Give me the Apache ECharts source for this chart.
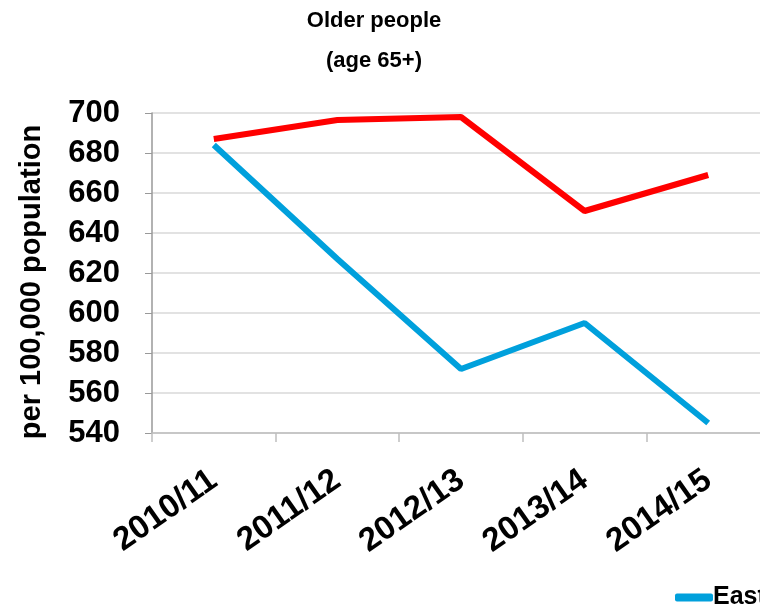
<!DOCTYPE html>
<html>
<head>
<meta charset="utf-8">
<script src="https://cdn.jsdelivr.net/npm/echarts@6/dist/echarts.min.js"></script>
<style>html,body{margin:0;padding:0;background:#fff}#c{width:760px;height:612px}</style>
</head>
<body>
<div id="c"></div>
<script>
var categories = ['2010/11', '2011/12', '2012/13', '2013/14', '2014/15'];
var eastValues = [684, 627, 572, 595, 545];
var englandValues = [687, 696.5, 698, 651, 669];
var seriesNames = ['East of England', 'England'];
var yTicks = {min: 540, max: 700, interval: 20};

var chart = echarts.init(document.getElementById('c'));
chart.setOption({
  animation: false,
  backgroundColor: '#fff',
  textStyle: {fontFamily: 'Liberation Sans, Arial, sans-serif'},
  title: {
    text: 'Older people\n(age 65+)',
    left: 369, top: -4, textAlign: 'center',
    textStyle: {fontSize: 22, fontWeight: 'bold', color: '#000', lineHeight: 40}
  },
  legend: {
    data: seriesNames,
    left: 670, top: 580,
    itemWidth: 38, itemHeight: 8, itemGap: 30,
    icon: 'roundRect',
    textStyle: {fontSize: 25, fontWeight: 'bold', color: '#000', padding: [0,0,0,-5]}
  },
  grid: {left: 152, right: -10, top: 113, bottom: 179, containLabel: false, outerBoundsMode: 'none'},
  xAxis: {
    type: 'category', data: categories, boundaryGap: true,
    axisLine: {lineStyle: {color: '#bfbfbf', width: 1.5}},
    axisTick: {show: true, length: 9, lineStyle: {color: '#bfbfbf', width: 1.5}},
    axisLabel: {rotate: 35, fontSize: 33, fontWeight: 'bold', color: '#000', margin: 44, interval: 0}
  },
  yAxis: {
    type: 'value', min: yTicks.min, max: yTicks.max, interval: yTicks.interval,
    name: 'per 100,000 population', nameLocation: 'middle', nameGap: 106, nameRotate: 90,
    nameTextStyle: {fontSize: 29, fontWeight: 'bold', color: '#000', padding: [0,18,0,0]},
    axisLine: {show: true, lineStyle: {color: '#999', width: 1.5}},
    axisTick: {show: true, length: 7, lineStyle: {color: '#999'}},
    axisLabel: {fontSize: 31, fontWeight: 'bold', color: '#000', margin: 32},
    splitLine: {lineStyle: {color: '#d9d9d9', width: 1.5}}
  },
  series: [
    {name: seriesNames[0], type: 'line', data: eastValues, showSymbol: false, symbol: 'none',
     lineStyle: {color: '#00a0dc', width: 6}, itemStyle: {color: '#00a0dc'}},
    {name: seriesNames[1], type: 'line', data: englandValues, showSymbol: false, symbol: 'none',
     lineStyle: {color: '#ff0000', width: 6}, itemStyle: {color: '#ff0000'}}
  ]
});
</script>
</body>
</html>
